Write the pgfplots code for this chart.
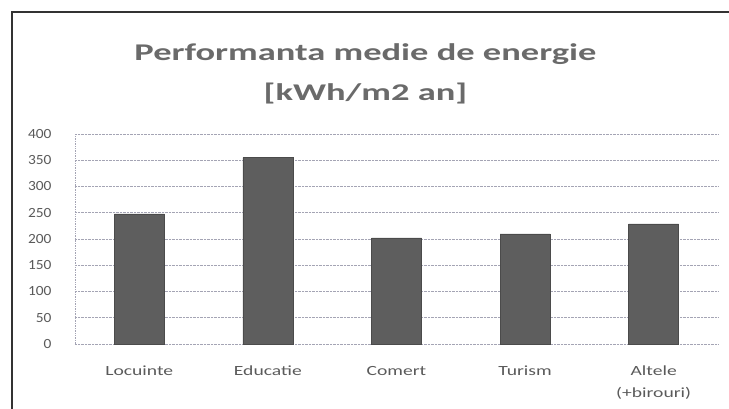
\documentclass[border=0pt]{standalone}
\usepackage{pgfplots}
\pgfplotsset{compat=1.18}
\usepackage{fontspec}
\setmainfont{Carlito}
\newfontfamily\titlefont[FakeStretch=1.52]{Carlito}
\newfontfamily\catfont[FakeStretch=1.4]{Carlito}
\newfontfamily\tickfont[FakeStretch=1.1]{Carlito}
\definecolor{bargray}{HTML}{5E5E5E}
\definecolor{txtgray}{HTML}{5A5A5A}
\definecolor{ttlgray}{HTML}{6A6A6A}
\definecolor{gridgray}{HTML}{A4A4B4}
\begin{document}
\begin{tikzpicture}[x=1pt,y=1pt]
\path[use as bounding box] (-75,-64) rectangle (654,344);
\draw[line width=1.8pt,black!80] (-63,-80) -- (-63,332) -- (700,332);
\begin{axis}[
  at={(0,0)}, anchor=south west,
  scale only axis,
  width=643pt, height=210pt,
  ymin=0, ymax=400,
  ytick={0,50,...,400},
  xmin=-0.5, xmax=4.5,
  xtick={0,1,2,3,4},
  xticklabels={\strut Locuinte,\strut Educatie,\strut Comert,\strut Turism,{\strut Altele\\\strut(+birouri)}},
  xticklabel style={align=center, font=\catfont\fontsize{14}{22}\selectfont, text=txtgray, yshift=-13pt},
  yticklabel style={font=\tickfont\fontsize{14}{16}\selectfont, text=txtgray, xshift=-20pt},
  /pgf/number format/assume math mode=true,
  axis line style={draw=none},
  major tick length=0pt,
  ymajorgrids,
  grid style={gridgray, densely dotted, line width=0.7pt},
  ybar, bar width=50pt,
  clip=false,
  title={Performanta medie de energie\\{}[kWh/m2 an]},
  title style={align=center, font=\titlefont\bfseries\fontsize{24}{40}\selectfont, text=ttlgray, yshift=20pt, xshift=-31pt},
]
\addplot[fill=bargray, draw=bargray!80!black, line width=0.5pt] coordinates {(0,248) (1,355) (2,202) (3,210) (4,229)};
\draw[gridgray, densely dotted, line width=0.7pt] (axis cs:-0.5,0) -- (axis cs:-0.5,400);
\end{axis}
\end{tikzpicture}
\end{document}
